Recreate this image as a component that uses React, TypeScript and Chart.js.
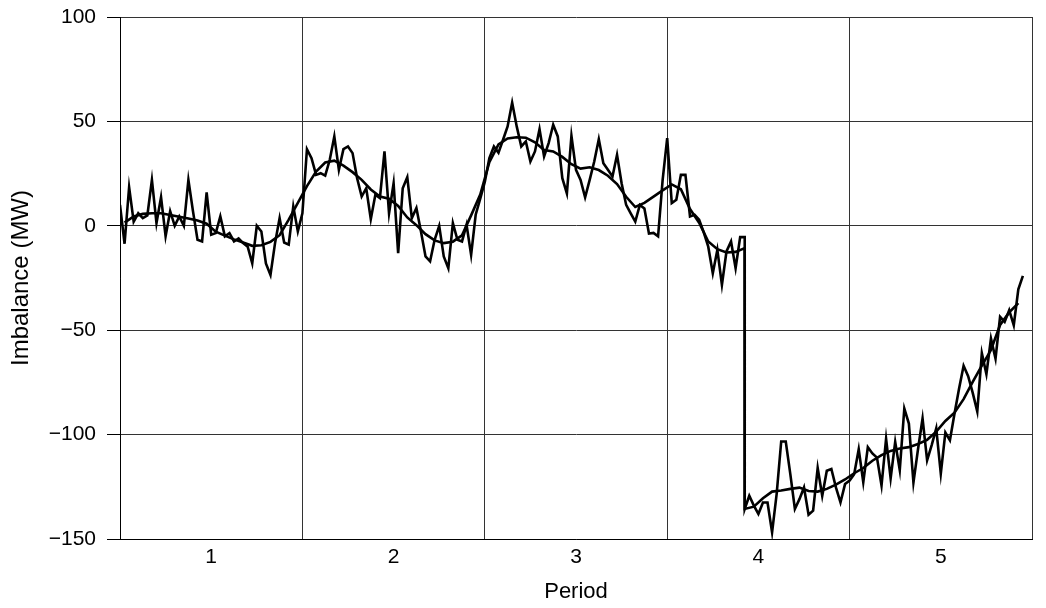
import React, { useEffect, useRef } from "react";
import { Chart, registerables } from "chart.js";

Chart.register(...registerables);

// ---- Data ----
const SAMPLES_PER_PERIOD = 40;
const FIRST_PERIOD_EDGE = 0.5;
const STEP_SAMPLE = 137; // sample index where the step change occurs

const periods = [1, 2, 3, 4, 5];
const periodEdges = [0.5, 1.5, 2.5, 3.5, 4.5, 5.5];
const yTicks = [-150, -100, -50, 0, 50, 100];

// raw imbalance, samples 0..137 (before the step)
const imbalanceBefore = [
  10, -8.6, 18.5, 2, 6, 3.7, 5, 22, 1.3, 13.7,
  -5, 7, 0, 4.5, 0, 22, 7, -6.7, -7.5, 16,
  -4.3, -3.5, 4.5, -5, -3.5, -7.5, -6, -8.3, -10, -18,
  0, -2.7, -18, -23.5, -8.3, 3.7, -8, -9, 9.3, -2.7,
  6, 36.7, 32.4, 24.4, 25.2, 24, 31.6, 42.8, 26.8, 36.7,
  38, 34.8, 22.8, 14, 18, 3.2, 14.9, 13.3, 35.6, 6,
  20.4, -13.1, 18, 23.3, 3.7, 8.5, -2.7, -14.7, -17, -6.7,
  0, -14.7, -20.3, 1.3, -6.7, -7.5, 0.5, -13.9, 5.3, 13,
  21, 32.4, 38, 35, 41.2, 47.6, 59, 47.6, 38, 40.4,
  30.8, 35.6, 46.3, 33.2, 39.6, 48.4, 42.8, 22.8, 15.5, 43.1,
  26.8, 22, 13.6, 22, 30.8, 41.5, 30, 26.8, 23.6, 34,
  20.4, 10, 6, 2, 10, 8.3, -3.7, -3.4, -5, 22,
  42, 10.9, 12.5, 24.4, 24.4, 4.5, 5.3, 2.9, -3, -10,
  -22.7, -11.5, -28.3, -12.3, -7.5, -20.3, -5.4, -5.4,
];

// raw imbalance, samples 137..198 (after the step)
const imbalanceAfter = [
  -135.6, -129.3, -134, -138, -132.5, -132.5, -146.8, -128.5, -103.3, -103.3,
  -118.9, -135.6, -130.9, -125.3, -138.4, -136.4, -116, -129.3, -117.3, -116.5,
  -125.3, -132.5, -123.7, -122, -119, -107, -122.8, -106, -109, -111,
  -124.4, -102, -121, -103.5, -117, -87.5, -94.7, -123, -107, -92.3,
  -112.3, -105, -97, -118.7, -99, -102.7, -90, -78, -67, -72,
  -80, -89, -61, -71, -54, -63.6, -43.6, -46, -40.4, -47.6,
  -30.4, -24,
];

// smoothed imbalance, every 2nd sample: 1,3,...,137
const smoothBefore = [
  1.5, 4.5, 5.7, 6, 6, 5.2, 4.3, 3.5, 2.5, 1,
  -2.8, -4.7, -6.5, -8, -9.6, -9.3, -7.7, -4.5, 3, 11,
  19, 26, 30.3, 31.2, 28.8, 25.7, 22, 17.4, 14, 13,
  9.5, 4, 0.3, -4, -7, -8.3, -7.6, -4.6, 5, 15,
  30.5, 39, 41.8, 42.4, 42.2, 40, 36.3, 35.6, 33, 29.5,
  27.4, 28, 26.7, 24, 20, 13.9, 9, 11, 14, 17,
  19.8, 17.5, 8, 1.5, -7.5, -11.2, -12.8, -12.5, -10.7,
];

// smoothed imbalance, every 2nd sample: 137,139,...,197
const smoothAfter = [
  -135.6, -134.5, -130.5, -127.3, -126.8, -126, -125.4, -127, -127.3, -126,
  -124, -121.5, -118.5, -116, -112.5, -109.8, -107.8, -106.7, -106, -104.5,
  -102.5, -98.6, -93.5, -89.5, -83, -74.8, -67, -59.5, -47.5, -41.5,
  -37,
];

const samplePeriod = (i: number) => FIRST_PERIOD_EDGE + i / SAMPLES_PER_PERIOD;

const FONT = "'Liberation Sans', Arial, Helvetica, sans-serif";

export default function App() {
  const ref = useRef<HTMLCanvasElement | null>(null);

  useEffect(() => {
    if (!ref.current) return;

    const rawPoints = [
      ...imbalanceBefore.map((v, i) => ({ x: samplePeriod(i), y: v })),
      ...imbalanceAfter.map((v, k) => ({ x: samplePeriod(STEP_SAMPLE + k), y: v })),
    ];
    const smoothPoints = [
      ...smoothBefore.map((v, k) => ({ x: samplePeriod(1 + 2 * k), y: v })),
      ...smoothAfter.map((v, k) => ({ x: samplePeriod(STEP_SAMPLE + 2 * k), y: v })),
    ];

    const xTickValues = [...periodEdges, ...periods].sort((a, b) => a - b);
    const isPeriod = (v: number) => periods.includes(v);

    const chart = new Chart(ref.current, {
      type: "line",
      data: {
        datasets: [
          {
            label: "Imbalance",
            data: rawPoints,
            borderColor: "#000",
            borderWidth: 2.6,
            pointRadius: 0,
            tension: 0,
            fill: false,
          },
          {
            label: "Smoothed",
            data: smoothPoints,
            borderColor: "#000",
            borderWidth: 2.6,
            pointRadius: 0,
            tension: 0,
            fill: false,
          },
        ],
      },
      options: {
        animation: false,
        responsive: true,
        maintainAspectRatio: false,
        parsing: false,
        layout: { padding: { top: 9, right: 6, left: 0, bottom: 0 } },
        plugins: {
          legend: { display: false },
          tooltip: { enabled: false },
        },
        scales: {
          x: {
            type: "linear",
            min: 0.5,
            max: 5.5,
            afterBuildTicks: (s: any) => {
              s.ticks = xTickValues.map((v) => ({ value: v }));
            },
            afterFit: (s: any) => {
              s.height = 69;
              s.paddingLeft = 0;
              s.paddingRight = 0;
            },
            ticks: {
              autoSkip: false,
              maxRotation: 0,
              minRotation: 0,
              padding: 6,
              color: "#000",
              font: { family: FONT, size: 21 },
              callback: (v: any) => (isPeriod(Number(v)) ? String(v) : ""),
            },
            grid: {
              drawTicks: false,
              lineWidth: 1,
              color: (ctx: any) =>
                ctx.tick && isPeriod(ctx.tick.value) ? "rgba(0,0,0,0)" : "#333",
            },
            border: { display: true, color: "#000", width: 1 },
            title: {
              display: true,
              text: "Period",
              color: "#000",
              font: { family: FONT, size: 22, lineHeight: 1.2 },
              padding: { top: 0, bottom: 3 },
            },
          },
          y: {
            type: "linear",
            min: -150,
            max: 100,
            afterBuildTicks: (s: any) => {
              s.ticks = yTicks.map((v) => ({ value: v }));
            },
            afterFit: (s: any) => {
              s.width = 112;
              s.paddingTop = 0;
              s.paddingBottom = 0;
            },
            ticks: {
              padding: 11,
              color: "#000",
              font: { family: FONT, size: 21 },
              callback: (v: any) =>
                Number(v) < 0 ? "\u2212" + Math.abs(Number(v)) : String(v),
            },
            grid: {
              drawTicks: true,
              tickLength: 13,
              tickColor: "#000",
              lineWidth: 1,
              color: "#333",
            },
            border: { display: true, color: "#000", width: 1 },
            title: {
              display: true,
              text: "Imbalance (MW)",
              color: "#000",
              font: { family: FONT, size: 24, lineHeight: 1 },
              padding: { top: 1, bottom: 0 },
            },
          },
        },
      },
    } as any);

    return () => chart.destroy();
  }, []);

  return (
    <div style={{ position: "relative", width: 1030, height: 600 }}>
      <canvas ref={ref} />
    </div>
  );
}
